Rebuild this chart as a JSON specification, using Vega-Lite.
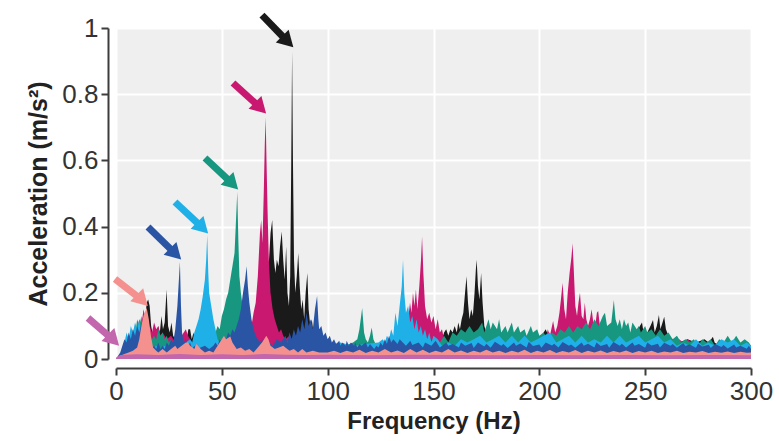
{
"$schema": "https://vega.github.io/schema/vega-lite/v6.json",
"width": 635, "height": 331,
"autosize": {"type": "none"},
"padding": {"left": 116, "top": 28, "right": 28, "bottom": 82},
"background": "#ffffff",
"config": {
  "view": {"fill": "#efefef", "stroke": null},
  "axis": {"labelFont": "Liberation Sans", "labelFontSize": 26, "labelColor": "#333333", "titleFont": "Liberation Sans", "titleFontSize": 24, "titleFontWeight": "bold", "titleColor": "#222222", "domainColor": "#3d3d3d", "domainWidth": 2, "tickColor": "#3d3d3d", "tickWidth": 2, "tickSize": 7, "gridColor": "#ffffff", "gridWidth": 2}
},
"datasets": {
"arrows": [
{"s":"k","f":68.97,"a":1.039,"f2":81.15,"a2":0.9586},
{"s":"c","f":55.27,"a":0.8338,"f2":68.29,"a2":0.7583},
{"s":"t","f":42.04,"a":0.6073,"f2":55.08,"a2":0.529},
{"s":"b","f":27.87,"a":0.4743,"f2":40.91,"a2":0.396},
{"s":"n","f":15.12,"a":0.3988,"f2":28.15,"a2":0.3175},
{"s":"p","f":-0.47,"a":0.2417,"f2":12.42,"a2":0.1773},
{"s":"o","f":-13.23,"a":0.1239,"f2":-1.18,"a2":0.0571}
],
"spec": [
{"s":"k","f":0,"a":0},{"s":"k","f":5,"a":0.02},{"s":"k","f":7,"a":0.04},{"s":"k","f":8,"a":0.05},{"s":"k","f":9,"a":0.07},{"s":"k","f":10,"a":0.08},{"s":"k","f":11,"a":0.1},{"s":"k","f":12,"a":0.09},{"s":"k","f":13,"a":0.14},{"s":"k","f":13.8,"a":0.12},{"s":"k","f":14.5,"a":0.17},{"s":"k","f":15.2,"a":0.18},{"s":"k","f":15.9,"a":0.16},{"s":"k","f":16.6,"a":0.1},{"s":"k","f":17.5,"a":0.07},{"s":"k","f":18.5,"a":0.09},{"s":"k","f":19.2,"a":0.06},{"s":"k","f":20,"a":0.1},{"s":"k","f":20.7,"a":0.08},{"s":"k","f":21.5,"a":0.13},{"s":"k","f":22.2,"a":0.09},{"s":"k","f":23,"a":0.11},{"s":"k","f":23.9,"a":0.21},{"s":"k","f":24.6,"a":0.1},{"s":"k","f":25.4,"a":0.08},{"s":"k","f":26.2,"a":0.11},{"s":"k","f":27,"a":0.07},{"s":"k","f":28,"a":0.06},{"s":"k","f":29,"a":0.05},{"s":"k","f":30,"a":0.06},{"s":"k","f":31,"a":0.05},{"s":"k","f":32,"a":0.07},{"s":"k","f":32.6,"a":0.08},{"s":"k","f":33.4,"a":0.06},{"s":"k","f":34.2,"a":0.09},{"s":"k","f":35,"a":0.09},{"s":"k","f":35.8,"a":0.06},{"s":"k","f":36.6,"a":0.08},{"s":"k","f":37.5,"a":0.05},{"s":"k","f":38.5,"a":0.06},{"s":"k","f":40,"a":0.04},{"s":"k","f":43,"a":0.04},{"s":"k","f":46,"a":0.05},{"s":"k","f":50,"a":0.04},{"s":"k","f":54,"a":0.05},{"s":"k","f":58,"a":0.06},{"s":"k","f":62,"a":0.07},{"s":"k","f":65,"a":0.09},{"s":"k","f":67,"a":0.12},{"s":"k","f":68.5,"a":0.18},{"s":"k","f":69.5,"a":0.16},{"s":"k","f":70.5,"a":0.22},{"s":"k","f":71.5,"a":0.28},{"s":"k","f":72.3,"a":0.3},{"s":"k","f":73,"a":0.38},{"s":"k","f":73.8,"a":0.42},{"s":"k","f":74.6,"a":0.3},{"s":"k","f":75.3,"a":0.26},{"s":"k","f":76,"a":0.3},{"s":"k","f":76.8,"a":0.28},{"s":"k","f":77.5,"a":0.34},{"s":"k","f":78.3,"a":0.385},{"s":"k","f":79,"a":0.3},{"s":"k","f":79.7,"a":0.24},{"s":"k","f":80.4,"a":0.34},{"s":"k","f":81,"a":0.2},{"s":"k","f":81.7,"a":0.16},{"s":"k","f":82.3,"a":0.25},{"s":"k","f":82.8,"a":0.6},{"s":"k","f":83.2,"a":0.93},{"s":"k","f":83.6,"a":0.6},{"s":"k","f":84.1,"a":0.3},{"s":"k","f":84.7,"a":0.2},{"s":"k","f":85.4,"a":0.25},{"s":"k","f":86.1,"a":0.32},{"s":"k","f":86.8,"a":0.22},{"s":"k","f":87.5,"a":0.15},{"s":"k","f":88.2,"a":0.18},{"s":"k","f":88.9,"a":0.12},{"s":"k","f":89.6,"a":0.2},{"s":"k","f":90.4,"a":0.26},{"s":"k","f":91,"a":0.15},{"s":"k","f":91.8,"a":0.1},{"s":"k","f":92.5,"a":0.12},{"s":"k","f":93.3,"a":0.08},{"s":"k","f":94,"a":0.07},{"s":"k","f":95,"a":0.06},{"s":"k","f":97,"a":0.05},{"s":"k","f":100,"a":0.03},{"s":"k","f":120,"a":0.03},{"s":"k","f":140,"a":0.03},{"s":"k","f":146,"a":0.04},{"s":"k","f":150,"a":0.06},{"s":"k","f":152,"a":0.07},{"s":"k","f":154,"a":0.06},{"s":"k","f":155,"a":0.08},{"s":"k","f":156,"a":0.09},{"s":"k","f":157,"a":0.07},{"s":"k","f":158,"a":0.09},{"s":"k","f":159,"a":0.08},{"s":"k","f":160,"a":0.1},{"s":"k","f":161,"a":0.08},{"s":"k","f":161.7,"a":0.11},{"s":"k","f":162.5,"a":0.09},{"s":"k","f":163.3,"a":0.12},{"s":"k","f":164.1,"a":0.14},{"s":"k","f":164.9,"a":0.2},{"s":"k","f":165.6,"a":0.25},{"s":"k","f":166.3,"a":0.17},{"s":"k","f":167,"a":0.12},{"s":"k","f":167.8,"a":0.15},{"s":"k","f":168.6,"a":0.13},{"s":"k","f":169.4,"a":0.2},{"s":"k","f":170,"a":0.27},{"s":"k","f":170.4,"a":0.3},{"s":"k","f":171,"a":0.22},{"s":"k","f":171.7,"a":0.18},{"s":"k","f":172.5,"a":0.26},{"s":"k","f":173.2,"a":0.17},{"s":"k","f":174,"a":0.1},{"s":"k","f":175,"a":0.08},{"s":"k","f":177,"a":0.06},{"s":"k","f":180,"a":0.05},{"s":"k","f":190,"a":0.05},{"s":"k","f":200,"a":0.06},{"s":"k","f":203,"a":0.09},{"s":"k","f":205,"a":0.06},{"s":"k","f":210,"a":0.05},{"s":"k","f":230,"a":0.05},{"s":"k","f":240,"a":0.06},{"s":"k","f":244,"a":0.07},{"s":"k","f":246,"a":0.08},{"s":"k","f":247.5,"a":0.1},{"s":"k","f":248.5,"a":0.11},{"s":"k","f":249.5,"a":0.07},{"s":"k","f":251,"a":0.08},{"s":"k","f":252.5,"a":0.1},{"s":"k","f":253.7,"a":0.118},{"s":"k","f":254.5,"a":0.08},{"s":"k","f":255.5,"a":0.1},{"s":"k","f":256.5,"a":0.133},{"s":"k","f":257.2,"a":0.09},{"s":"k","f":258.2,"a":0.11},{"s":"k","f":259,"a":0.128},{"s":"k","f":259.8,"a":0.09},{"s":"k","f":261,"a":0.07},{"s":"k","f":263,"a":0.06},{"s":"k","f":266,"a":0.05},{"s":"k","f":270,"a":0.06},{"s":"k","f":274,"a":0.05},{"s":"k","f":278,"a":0.06},{"s":"k","f":280,"a":0.05},{"s":"k","f":281.2,"a":0.06},{"s":"k","f":282,"a":0.067},{"s":"k","f":282.8,"a":0.05},{"s":"k","f":285,"a":0.04},{"s":"k","f":290,"a":0.045},{"s":"k","f":295,"a":0.04},{"s":"k","f":300,"a":0.04},

{"s":"c","f":0,"a":0},{"s":"c","f":6,"a":0.03},{"s":"c","f":8,"a":0.06},{"s":"c","f":10,"a":0.09},{"s":"c","f":11,"a":0.12},{"s":"c","f":12,"a":0.1},{"s":"c","f":13,"a":0.15},{"s":"c","f":14,"a":0.12},{"s":"c","f":15,"a":0.09},{"s":"c","f":16,"a":0.1},{"s":"c","f":17,"a":0.08},{"s":"c","f":18,"a":0.11},{"s":"c","f":19,"a":0.09},{"s":"c","f":20,"a":0.1},{"s":"c","f":21,"a":0.07},{"s":"c","f":22,"a":0.08},{"s":"c","f":24,"a":0.06},{"s":"c","f":26,"a":0.07},{"s":"c","f":28,"a":0.05},{"s":"c","f":30,"a":0.06},{"s":"c","f":32,"a":0.08},{"s":"c","f":33,"a":0.09},{"s":"c","f":34,"a":0.07},{"s":"c","f":36,"a":0.05},{"s":"c","f":38,"a":0.04},{"s":"c","f":42,"a":0.03},{"s":"c","f":46,"a":0.04},{"s":"c","f":50,"a":0.03},{"s":"c","f":54,"a":0.04},{"s":"c","f":58,"a":0.05},{"s":"c","f":61,"a":0.06},{"s":"c","f":63,"a":0.08},{"s":"c","f":64,"a":0.1},{"s":"c","f":65,"a":0.14},{"s":"c","f":66,"a":0.17},{"s":"c","f":67,"a":0.25},{"s":"c","f":68,"a":0.38},{"s":"c","f":68.6,"a":0.42},{"s":"c","f":69.2,"a":0.35},{"s":"c","f":69.8,"a":0.5},{"s":"c","f":70.3,"a":0.65},{"s":"c","f":70.7,"a":0.73},{"s":"c","f":71.1,"a":0.6},{"s":"c","f":71.6,"a":0.45},{"s":"c","f":72.2,"a":0.3},{"s":"c","f":73,"a":0.2},{"s":"c","f":74,"a":0.15},{"s":"c","f":75,"a":0.12},{"s":"c","f":76,"a":0.1},{"s":"c","f":77,"a":0.08},{"s":"c","f":78,"a":0.09},{"s":"c","f":79,"a":0.07},{"s":"c","f":80,"a":0.06},{"s":"c","f":82,"a":0.07},{"s":"c","f":84,"a":0.05},{"s":"c","f":86,"a":0.06},{"s":"c","f":88,"a":0.04},{"s":"c","f":92,"a":0.05},{"s":"c","f":96,"a":0.03},{"s":"c","f":100,"a":0.04},{"s":"c","f":110,"a":0.03},{"s":"c","f":120,"a":0.035},{"s":"c","f":128,"a":0.03},{"s":"c","f":130,"a":0.05},{"s":"c","f":132,"a":0.06},{"s":"c","f":134,"a":0.08},{"s":"c","f":136,"a":0.1},{"s":"c","f":137,"a":0.14},{"s":"c","f":138,"a":0.12},{"s":"c","f":138.9,"a":0.17},{"s":"c","f":139.6,"a":0.14},{"s":"c","f":140.3,"a":0.2},{"s":"c","f":141,"a":0.16},{"s":"c","f":141.7,"a":0.21},{"s":"c","f":142.4,"a":0.15},{"s":"c","f":143.3,"a":0.22},{"s":"c","f":144.1,"a":0.3},{"s":"c","f":144.6,"a":0.37},{"s":"c","f":145.2,"a":0.26},{"s":"c","f":146,"a":0.16},{"s":"c","f":147,"a":0.12},{"s":"c","f":148,"a":0.14},{"s":"c","f":149,"a":0.11},{"s":"c","f":150,"a":0.13},{"s":"c","f":151,"a":0.09},{"s":"c","f":152,"a":0.12},{"s":"c","f":153,"a":0.08},{"s":"c","f":154,"a":0.09},{"s":"c","f":155,"a":0.06},{"s":"c","f":157,"a":0.05},{"s":"c","f":160,"a":0.04},{"s":"c","f":170,"a":0.04},{"s":"c","f":180,"a":0.04},{"s":"c","f":190,"a":0.04},{"s":"c","f":200,"a":0.06},{"s":"c","f":202,"a":0.07},{"s":"c","f":203,"a":0.06},{"s":"c","f":204,"a":0.09},{"s":"c","f":205,"a":0.07},{"s":"c","f":206,"a":0.1},{"s":"c","f":206.5,"a":0.115},{"s":"c","f":207.5,"a":0.08},{"s":"c","f":208.5,"a":0.1},{"s":"c","f":209.5,"a":0.14},{"s":"c","f":210.2,"a":0.18},{"s":"c","f":211,"a":0.23},{"s":"c","f":211.8,"a":0.15},{"s":"c","f":212.6,"a":0.12},{"s":"c","f":213.4,"a":0.2},{"s":"c","f":214.3,"a":0.26},{"s":"c","f":215.2,"a":0.31},{"s":"c","f":215.7,"a":0.35},{"s":"c","f":216.2,"a":0.28},{"s":"c","f":217,"a":0.16},{"s":"c","f":217.8,"a":0.13},{"s":"c","f":218.5,"a":0.17},{"s":"c","f":219.2,"a":0.2},{"s":"c","f":220,"a":0.13},{"s":"c","f":220.8,"a":0.12},{"s":"c","f":221.5,"a":0.17},{"s":"c","f":222.2,"a":0.12},{"s":"c","f":223,"a":0.1},{"s":"c","f":223.9,"a":0.12},{"s":"c","f":224.7,"a":0.15},{"s":"c","f":225.5,"a":0.11},{"s":"c","f":226.4,"a":0.1},{"s":"c","f":227.2,"a":0.14},{"s":"c","f":227.8,"a":0.145},{"s":"c","f":228.6,"a":0.1},{"s":"c","f":229.5,"a":0.08},{"s":"c","f":231,"a":0.06},{"s":"c","f":233,"a":0.05},{"s":"c","f":240,"a":0.045},{"s":"c","f":250,"a":0.05},{"s":"c","f":258,"a":0.045},{"s":"c","f":262,"a":0.06},{"s":"c","f":264,"a":0.05},{"s":"c","f":266,"a":0.06},{"s":"c","f":268,"a":0.05},{"s":"c","f":270,"a":0.06},{"s":"c","f":272,"a":0.05},{"s":"c","f":274,"a":0.055},{"s":"c","f":276,"a":0.045},{"s":"c","f":280,"a":0.04},{"s":"c","f":290,"a":0.04},{"s":"c","f":300,"a":0.04},

{"s":"t","f":0,"a":0},{"s":"t","f":5,"a":0.03},{"s":"t","f":7,"a":0.06},{"s":"t","f":8,"a":0.09},{"s":"t","f":9,"a":0.07},{"s":"t","f":10,"a":0.12},{"s":"t","f":11,"a":0.1},{"s":"t","f":12,"a":0.13},{"s":"t","f":13,"a":0.08},{"s":"t","f":14,"a":0.06},{"s":"t","f":16,"a":0.05},{"s":"t","f":18,"a":0.07},{"s":"t","f":19,"a":0.06},{"s":"t","f":20,"a":0.09},{"s":"t","f":21,"a":0.07},{"s":"t","f":22,"a":0.08},{"s":"t","f":23,"a":0.06},{"s":"t","f":24,"a":0.07},{"s":"t","f":25,"a":0.05},{"s":"t","f":26,"a":0.06},{"s":"t","f":28,"a":0.04},{"s":"t","f":30,"a":0.05},{"s":"t","f":32,"a":0.04},{"s":"t","f":34,"a":0.05},{"s":"t","f":36,"a":0.04},{"s":"t","f":38,"a":0.05},{"s":"t","f":40,"a":0.04},{"s":"t","f":42,"a":0.05},{"s":"t","f":44,"a":0.04},{"s":"t","f":46,"a":0.06},{"s":"t","f":47,"a":0.08},{"s":"t","f":48,"a":0.1},{"s":"t","f":49,"a":0.09},{"s":"t","f":50,"a":0.13},{"s":"t","f":51,"a":0.15},{"s":"t","f":52,"a":0.18},{"s":"t","f":53,"a":0.2},{"s":"t","f":54,"a":0.24},{"s":"t","f":55,"a":0.28},{"s":"t","f":56,"a":0.32},{"s":"t","f":56.7,"a":0.42},{"s":"t","f":57.3,"a":0.505},{"s":"t","f":57.8,"a":0.36},{"s":"t","f":58.3,"a":0.25},{"s":"t","f":59,"a":0.2},{"s":"t","f":60,"a":0.15},{"s":"t","f":61,"a":0.12},{"s":"t","f":62,"a":0.1},{"s":"t","f":63,"a":0.08},{"s":"t","f":64,"a":0.07},{"s":"t","f":65,"a":0.05},{"s":"t","f":67,"a":0.04},{"s":"t","f":70,"a":0.04},{"s":"t","f":73,"a":0.03},{"s":"t","f":76,"a":0.04},{"s":"t","f":80,"a":0.03},{"s":"t","f":84,"a":0.04},{"s":"t","f":88,"a":0.03},{"s":"t","f":92,"a":0.04},{"s":"t","f":96,"a":0.03},{"s":"t","f":100,"a":0.04},{"s":"t","f":104,"a":0.03},{"s":"t","f":108,"a":0.04},{"s":"t","f":112,"a":0.05},{"s":"t","f":114,"a":0.06},{"s":"t","f":115,"a":0.09},{"s":"t","f":116.3,"a":0.154},{"s":"t","f":117.2,"a":0.08},{"s":"t","f":118,"a":0.06},{"s":"t","f":119,"a":0.05},{"s":"t","f":120,"a":0.07},{"s":"t","f":120.8,"a":0.095},{"s":"t","f":121.6,"a":0.06},{"s":"t","f":123,"a":0.04},{"s":"t","f":126,"a":0.03},{"s":"t","f":130,"a":0.04},{"s":"t","f":134,"a":0.03},{"s":"t","f":138,"a":0.04},{"s":"t","f":142,"a":0.05},{"s":"t","f":146,"a":0.04},{"s":"t","f":150,"a":0.06},{"s":"t","f":153,"a":0.05},{"s":"t","f":155,"a":0.07},{"s":"t","f":157,"a":0.05},{"s":"t","f":159,"a":0.08},{"s":"t","f":161,"a":0.07},{"s":"t","f":163,"a":0.09},{"s":"t","f":165,"a":0.08},{"s":"t","f":167,"a":0.1},{"s":"t","f":169,"a":0.08},{"s":"t","f":171,"a":0.09},{"s":"t","f":173,"a":0.11},{"s":"t","f":174,"a":0.08},{"s":"t","f":176,"a":0.12},{"s":"t","f":177,"a":0.09},{"s":"t","f":178,"a":0.11},{"s":"t","f":180,"a":0.09},{"s":"t","f":181,"a":0.12},{"s":"t","f":182,"a":0.08},{"s":"t","f":184,"a":0.1},{"s":"t","f":185,"a":0.08},{"s":"t","f":187,"a":0.11},{"s":"t","f":188,"a":0.08},{"s":"t","f":190,"a":0.1},{"s":"t","f":191,"a":0.08},{"s":"t","f":193,"a":0.09},{"s":"t","f":194,"a":0.07},{"s":"t","f":196,"a":0.1},{"s":"t","f":197,"a":0.08},{"s":"t","f":199,"a":0.09},{"s":"t","f":200,"a":0.07},{"s":"t","f":202,"a":0.08},{"s":"t","f":204,"a":0.06},{"s":"t","f":206,"a":0.08},{"s":"t","f":208,"a":0.07},{"s":"t","f":210,"a":0.09},{"s":"t","f":212,"a":0.08},{"s":"t","f":214,"a":0.1},{"s":"t","f":216,"a":0.08},{"s":"t","f":218,"a":0.1},{"s":"t","f":220,"a":0.09},{"s":"t","f":222,"a":0.11},{"s":"t","f":224,"a":0.09},{"s":"t","f":226,"a":0.12},{"s":"t","f":228,"a":0.1},{"s":"t","f":230,"a":0.13},{"s":"t","f":231,"a":0.14},{"s":"t","f":232,"a":0.1},{"s":"t","f":234,"a":0.11},{"s":"t","f":235.2,"a":0.178},{"s":"t","f":236,"a":0.12},{"s":"t","f":237,"a":0.1},{"s":"t","f":238,"a":0.12},{"s":"t","f":239,"a":0.09},{"s":"t","f":240,"a":0.12},{"s":"t","f":241,"a":0.1},{"s":"t","f":242,"a":0.11},{"s":"t","f":243,"a":0.08},{"s":"t","f":244,"a":0.11},{"s":"t","f":246,"a":0.09},{"s":"t","f":247,"a":0.1},{"s":"t","f":248,"a":0.08},{"s":"t","f":250,"a":0.1},{"s":"t","f":251,"a":0.08},{"s":"t","f":253,"a":0.09},{"s":"t","f":255,"a":0.07},{"s":"t","f":257,"a":0.09},{"s":"t","f":259,"a":0.07},{"s":"t","f":261,"a":0.08},{"s":"t","f":263,"a":0.06},{"s":"t","f":265,"a":0.07},{"s":"t","f":267,"a":0.05},{"s":"t","f":269,"a":0.06},{"s":"t","f":271,"a":0.05},{"s":"t","f":273,"a":0.06},{"s":"t","f":275,"a":0.04},{"s":"t","f":277,"a":0.06},{"s":"t","f":279,"a":0.05},{"s":"t","f":281,"a":0.06},{"s":"t","f":283,"a":0.04},{"s":"t","f":285,"a":0.06},{"s":"t","f":287,"a":0.05},{"s":"t","f":289,"a":0.07},{"s":"t","f":291,"a":0.05},{"s":"t","f":293,"a":0.07},{"s":"t","f":295,"a":0.05},{"s":"t","f":297,"a":0.06},{"s":"t","f":299,"a":0.05},{"s":"t","f":300,"a":0.04},

{"s":"b","f":0,"a":0},{"s":"b","f":3,"a":0.02},{"s":"b","f":4,"a":0.05},{"s":"b","f":5,"a":0.08},{"s":"b","f":6,"a":0.06},{"s":"b","f":7,"a":0.1},{"s":"b","f":8,"a":0.08},{"s":"b","f":9,"a":0.11},{"s":"b","f":10,"a":0.09},{"s":"b","f":11,"a":0.12},{"s":"b","f":12,"a":0.08},{"s":"b","f":13,"a":0.06},{"s":"b","f":14,"a":0.05},{"s":"b","f":15,"a":0.04},{"s":"b","f":17,"a":0.03},{"s":"b","f":19,"a":0.04},{"s":"b","f":21,"a":0.03},{"s":"b","f":23,"a":0.04},{"s":"b","f":25,"a":0.03},{"s":"b","f":27,"a":0.04},{"s":"b","f":29,"a":0.03},{"s":"b","f":31,"a":0.04},{"s":"b","f":33,"a":0.05},{"s":"b","f":35,"a":0.06},{"s":"b","f":36,"a":0.05},{"s":"b","f":37,"a":0.08},{"s":"b","f":38,"a":0.1},{"s":"b","f":39,"a":0.12},{"s":"b","f":40,"a":0.15},{"s":"b","f":41,"a":0.19},{"s":"b","f":42,"a":0.24},{"s":"b","f":42.6,"a":0.3},{"s":"b","f":43.1,"a":0.375},{"s":"b","f":43.6,"a":0.26},{"s":"b","f":44,"a":0.2},{"s":"b","f":45,"a":0.16},{"s":"b","f":46,"a":0.12},{"s":"b","f":47,"a":0.09},{"s":"b","f":48,"a":0.06},{"s":"b","f":49,"a":0.05},{"s":"b","f":50,"a":0.04},{"s":"b","f":54,"a":0.04},{"s":"b","f":60,"a":0.03},{"s":"b","f":66,"a":0.04},{"s":"b","f":72,"a":0.03},{"s":"b","f":76,"a":0.05},{"s":"b","f":80,"a":0.05},{"s":"b","f":84,"a":0.06},{"s":"b","f":86,"a":0.05},{"s":"b","f":88,"a":0.07},{"s":"b","f":90,"a":0.05},{"s":"b","f":92,"a":0.06},{"s":"b","f":94,"a":0.04},{"s":"b","f":97,"a":0.05},{"s":"b","f":100,"a":0.04},{"s":"b","f":106,"a":0.05},{"s":"b","f":112,"a":0.04},{"s":"b","f":118,"a":0.045},{"s":"b","f":124,"a":0.05},{"s":"b","f":126,"a":0.06},{"s":"b","f":127,"a":0.05},{"s":"b","f":128,"a":0.07},{"s":"b","f":129,"a":0.06},{"s":"b","f":130,"a":0.09},{"s":"b","f":131,"a":0.07},{"s":"b","f":132,"a":0.14},{"s":"b","f":133,"a":0.1},{"s":"b","f":134,"a":0.16},{"s":"b","f":135,"a":0.22},{"s":"b","f":135.6,"a":0.3},{"s":"b","f":136.2,"a":0.2},{"s":"b","f":137,"a":0.14},{"s":"b","f":138,"a":0.16},{"s":"b","f":139,"a":0.11},{"s":"b","f":140,"a":0.13},{"s":"b","f":141,"a":0.09},{"s":"b","f":142,"a":0.12},{"s":"b","f":143,"a":0.08},{"s":"b","f":144,"a":0.1},{"s":"b","f":145,"a":0.07},{"s":"b","f":146,"a":0.09},{"s":"b","f":147,"a":0.06},{"s":"b","f":148,"a":0.08},{"s":"b","f":149,"a":0.05},{"s":"b","f":150,"a":0.07},{"s":"b","f":152,"a":0.06},{"s":"b","f":154,"a":0.04},{"s":"b","f":157,"a":0.05},{"s":"b","f":160,"a":0.04},{"s":"b","f":163,"a":0.06},{"s":"b","f":166,"a":0.05},{"s":"b","f":169,"a":0.06},{"s":"b","f":172,"a":0.07},{"s":"b","f":175,"a":0.05},{"s":"b","f":178,"a":0.06},{"s":"b","f":181,"a":0.07},{"s":"b","f":184,"a":0.05},{"s":"b","f":187,"a":0.07},{"s":"b","f":190,"a":0.05},{"s":"b","f":193,"a":0.07},{"s":"b","f":196,"a":0.05},{"s":"b","f":199,"a":0.06},{"s":"b","f":202,"a":0.07},{"s":"b","f":205,"a":0.08},{"s":"b","f":208,"a":0.05},{"s":"b","f":211,"a":0.06},{"s":"b","f":214,"a":0.07},{"s":"b","f":217,"a":0.05},{"s":"b","f":220,"a":0.07},{"s":"b","f":223,"a":0.05},{"s":"b","f":226,"a":0.06},{"s":"b","f":229,"a":0.05},{"s":"b","f":232,"a":0.07},{"s":"b","f":235,"a":0.05},{"s":"b","f":238,"a":0.07},{"s":"b","f":241,"a":0.05},{"s":"b","f":244,"a":0.06},{"s":"b","f":247,"a":0.07},{"s":"b","f":250,"a":0.05},{"s":"b","f":253,"a":0.06},{"s":"b","f":256,"a":0.07},{"s":"b","f":259,"a":0.05},{"s":"b","f":262,"a":0.06},{"s":"b","f":265,"a":0.04},{"s":"b","f":268,"a":0.05},{"s":"b","f":271,"a":0.04},{"s":"b","f":274,"a":0.06},{"s":"b","f":277,"a":0.04},{"s":"b","f":280,"a":0.05},{"s":"b","f":283,"a":0.04},{"s":"b","f":286,"a":0.06},{"s":"b","f":289,"a":0.05},{"s":"b","f":292,"a":0.06},{"s":"b","f":295,"a":0.04},{"s":"b","f":298,"a":0.05},{"s":"b","f":300,"a":0.04},

{"s":"n","f":0,"a":0},{"s":"n","f":2,"a":0.02},{"s":"n","f":3,"a":0.04},{"s":"n","f":4,"a":0.06},{"s":"n","f":5,"a":0.05},{"s":"n","f":6,"a":0.08},{"s":"n","f":7,"a":0.06},{"s":"n","f":8,"a":0.09},{"s":"n","f":9,"a":0.07},{"s":"n","f":10,"a":0.1},{"s":"n","f":11,"a":0.08},{"s":"n","f":12,"a":0.11},{"s":"n","f":13,"a":0.07},{"s":"n","f":14,"a":0.06},{"s":"n","f":15,"a":0.04},{"s":"n","f":16,"a":0.05},{"s":"n","f":17,"a":0.03},{"s":"n","f":18,"a":0.04},{"s":"n","f":19,"a":0.03},{"s":"n","f":20,"a":0.05},{"s":"n","f":21,"a":0.03},{"s":"n","f":22,"a":0.04},{"s":"n","f":23,"a":0.03},{"s":"n","f":24,"a":0.05},{"s":"n","f":25,"a":0.04},{"s":"n","f":26,"a":0.06},{"s":"n","f":27,"a":0.05},{"s":"n","f":28,"a":0.09},{"s":"n","f":29,"a":0.16},{"s":"n","f":30.2,"a":0.294},{"s":"n","f":30.7,"a":0.16},{"s":"n","f":31.2,"a":0.08},{"s":"n","f":32,"a":0.05},{"s":"n","f":33,"a":0.06},{"s":"n","f":34,"a":0.04},{"s":"n","f":35,"a":0.05},{"s":"n","f":36,"a":0.03},{"s":"n","f":37,"a":0.04},{"s":"n","f":38,"a":0.03},{"s":"n","f":40,"a":0.035},{"s":"n","f":42,"a":0.04},{"s":"n","f":44,"a":0.03},{"s":"n","f":46,"a":0.04},{"s":"n","f":47,"a":0.05},{"s":"n","f":48,"a":0.04},{"s":"n","f":49,"a":0.06},{"s":"n","f":50,"a":0.05},{"s":"n","f":51,"a":0.07},{"s":"n","f":52,"a":0.06},{"s":"n","f":53,"a":0.08},{"s":"n","f":54,"a":0.07},{"s":"n","f":55,"a":0.09},{"s":"n","f":56,"a":0.08},{"s":"n","f":57,"a":0.1},{"s":"n","f":58,"a":0.12},{"s":"n","f":59,"a":0.15},{"s":"n","f":60,"a":0.2},{"s":"n","f":61,"a":0.24},{"s":"n","f":61.7,"a":0.28},{"s":"n","f":62.3,"a":0.22},{"s":"n","f":63,"a":0.17},{"s":"n","f":64,"a":0.12},{"s":"n","f":65,"a":0.09},{"s":"n","f":66,"a":0.07},{"s":"n","f":67,"a":0.06},{"s":"n","f":68,"a":0.05},{"s":"n","f":69,"a":0.06},{"s":"n","f":70,"a":0.04},{"s":"n","f":72,"a":0.05},{"s":"n","f":74,"a":0.04},{"s":"n","f":76,"a":0.06},{"s":"n","f":78,"a":0.05},{"s":"n","f":80,"a":0.07},{"s":"n","f":81,"a":0.05},{"s":"n","f":82,"a":0.08},{"s":"n","f":83,"a":0.06},{"s":"n","f":84,"a":0.09},{"s":"n","f":85,"a":0.07},{"s":"n","f":86,"a":0.1},{"s":"n","f":87,"a":0.08},{"s":"n","f":88,"a":0.12},{"s":"n","f":89,"a":0.09},{"s":"n","f":90,"a":0.14},{"s":"n","f":91,"a":0.1},{"s":"n","f":92,"a":0.12},{"s":"n","f":93,"a":0.09},{"s":"n","f":94,"a":0.15},{"s":"n","f":95,"a":0.19},{"s":"n","f":95.6,"a":0.12},{"s":"n","f":96,"a":0.09},{"s":"n","f":97,"a":0.1},{"s":"n","f":98,"a":0.07},{"s":"n","f":99,"a":0.08},{"s":"n","f":100,"a":0.06},{"s":"n","f":101,"a":0.07},{"s":"n","f":102,"a":0.05},{"s":"n","f":103,"a":0.06},{"s":"n","f":104,"a":0.045},{"s":"n","f":105.5,"a":0.055},{"s":"n","f":106,"a":0.04},{"s":"n","f":107,"a":0.05},{"s":"n","f":108.5,"a":0.04},{"s":"n","f":109,"a":0.055},{"s":"n","f":110,"a":0.04},{"s":"n","f":111,"a":0.05},{"s":"n","f":112.5,"a":0.04},{"s":"n","f":113,"a":0.05},{"s":"n","f":114,"a":0.035},{"s":"n","f":115,"a":0.045},{"s":"n","f":116,"a":0.04},{"s":"n","f":118,"a":0.05},{"s":"n","f":119,"a":0.035},{"s":"n","f":120,"a":0.045},{"s":"n","f":122,"a":0.03},{"s":"n","f":123,"a":0.04},{"s":"n","f":124,"a":0.035},{"s":"n","f":125,"a":0.05},{"s":"n","f":126,"a":0.04},{"s":"n","f":127,"a":0.06},{"s":"n","f":128,"a":0.045},{"s":"n","f":129,"a":0.07},{"s":"n","f":130,"a":0.05},{"s":"n","f":131,"a":0.06},{"s":"n","f":133,"a":0.045},{"s":"n","f":134,"a":0.06},{"s":"n","f":137,"a":0.04},{"s":"n","f":139,"a":0.055},{"s":"n","f":140,"a":0.042},{"s":"n","f":143,"a":0.05},{"s":"n","f":145,"a":0.035},{"s":"n","f":146,"a":0.05},{"s":"n","f":149,"a":0.04},{"s":"n","f":151,"a":0.055},{"s":"n","f":153,"a":0.035},{"s":"n","f":156,"a":0.05},{"s":"n","f":157,"a":0.04},{"s":"n","f":159,"a":0.045},{"s":"n","f":162,"a":0.035},{"s":"n","f":163,"a":0.05},{"s":"n","f":165,"a":0.04},{"s":"n","f":168,"a":0.048},{"s":"n","f":169,"a":0.033},{"s":"n","f":171,"a":0.05},{"s":"n","f":174,"a":0.038},{"s":"n","f":175,"a":0.046},{"s":"n","f":177,"a":0.034},{"s":"n","f":179,"a":0.052},{"s":"n","f":182,"a":0.04},{"s":"n","f":183,"a":0.045},{"s":"n","f":185,"a":0.033},{"s":"n","f":188,"a":0.05},{"s":"n","f":189,"a":0.04},{"s":"n","f":191,"a":0.047},{"s":"n","f":194,"a":0.035},{"s":"n","f":195,"a":0.052},{"s":"n","f":197,"a":0.039},{"s":"n","f":200,"a":0.044},{"s":"n","f":201,"a":0.034},{"s":"n","f":203,"a":0.05},{"s":"n","f":206,"a":0.041},{"s":"n","f":207,"a":0.046},{"s":"n","f":209,"a":0.035},{"s":"n","f":211,"a":0.051},{"s":"n","f":214,"a":0.04},{"s":"n","f":215,"a":0.044},{"s":"n","f":217,"a":0.034},{"s":"n","f":220,"a":0.05},{"s":"n","f":221,"a":0.04},{"s":"n","f":223,"a":0.046},{"s":"n","f":226,"a":0.035},{"s":"n","f":227,"a":0.05},{"s":"n","f":229,"a":0.039},{"s":"n","f":232,"a":0.045},{"s":"n","f":233,"a":0.034},{"s":"n","f":235,"a":0.051},{"s":"n","f":238,"a":0.04},{"s":"n","f":239,"a":0.046},{"s":"n","f":241,"a":0.035},{"s":"n","f":244,"a":0.05},{"s":"n","f":245,"a":0.04},{"s":"n","f":247,"a":0.045},{"s":"n","f":250,"a":0.034},{"s":"n","f":251,"a":0.05},{"s":"n","f":253,"a":0.041},{"s":"n","f":256,"a":0.046},{"s":"n","f":257,"a":0.035},{"s":"n","f":259,"a":0.049},{"s":"n","f":262,"a":0.04},{"s":"n","f":263,"a":0.045},{"s":"n","f":265,"a":0.034},{"s":"n","f":268,"a":0.048},{"s":"n","f":269,"a":0.039},{"s":"n","f":271,"a":0.044},{"s":"n","f":274,"a":0.034},{"s":"n","f":275,"a":0.047},{"s":"n","f":277,"a":0.038},{"s":"n","f":280,"a":0.043},{"s":"n","f":281,"a":0.033},{"s":"n","f":283,"a":0.045},{"s":"n","f":286,"a":0.036},{"s":"n","f":287,"a":0.042},{"s":"n","f":289,"a":0.032},{"s":"n","f":292,"a":0.044},{"s":"n","f":293,"a":0.035},{"s":"n","f":295,"a":0.04},{"s":"n","f":298,"a":0.031},{"s":"n","f":299,"a":0.04},{"s":"n","f":300,"a":0.03},

{"s":"p","f":0,"a":0},{"s":"p","f":2,"a":0.01},{"s":"p","f":4,"a":0.015},{"s":"p","f":6,"a":0.02},{"s":"p","f":8,"a":0.025},{"s":"p","f":10,"a":0.035},{"s":"p","f":11,"a":0.06},{"s":"p","f":12,"a":0.1},{"s":"p","f":13,"a":0.13},{"s":"p","f":14.5,"a":0.155},{"s":"p","f":15.5,"a":0.12},{"s":"p","f":16.5,"a":0.07},{"s":"p","f":17.5,"a":0.035},{"s":"p","f":19,"a":0.025},{"s":"p","f":20,"a":0.02},{"s":"p","f":22,"a":0.03},{"s":"p","f":24,"a":0.02},{"s":"p","f":26,"a":0.03},{"s":"p","f":28,"a":0.04},{"s":"p","f":29,"a":0.03},{"s":"p","f":31,"a":0.04},{"s":"p","f":33,"a":0.05},{"s":"p","f":34,"a":0.05},{"s":"p","f":35,"a":0.04},{"s":"p","f":37,"a":0.03},{"s":"p","f":38,"a":0.045},{"s":"p","f":40,"a":0.03},{"s":"p","f":42,"a":0.02},{"s":"p","f":44,"a":0.025},{"s":"p","f":46,"a":0.02},{"s":"p","f":48,"a":0.04},{"s":"p","f":50,"a":0.06},{"s":"p","f":51,"a":0.07},{"s":"p","f":52,"a":0.06},{"s":"p","f":54,"a":0.068},{"s":"p","f":55,"a":0.05},{"s":"p","f":57,"a":0.03},{"s":"p","f":59,"a":0.035},{"s":"p","f":61,"a":0.025},{"s":"p","f":63,"a":0.03},{"s":"p","f":65,"a":0.02},{"s":"p","f":67,"a":0.035},{"s":"p","f":69,"a":0.05},{"s":"p","f":70,"a":0.06},{"s":"p","f":71,"a":0.07},{"s":"p","f":72,"a":0.06},{"s":"p","f":73,"a":0.04},{"s":"p","f":75,"a":0.03},{"s":"p","f":77,"a":0.035},{"s":"p","f":79,"a":0.04},{"s":"p","f":80,"a":0.035},{"s":"p","f":82,"a":0.025},{"s":"p","f":84,"a":0.03},{"s":"p","f":86,"a":0.02},{"s":"p","f":88,"a":0.03},{"s":"p","f":90,"a":0.02},{"s":"p","f":93,"a":0.025},{"s":"p","f":96,"a":0.02},{"s":"p","f":100,"a":0.02},{"s":"p","f":103,"a":0.025},{"s":"p","f":106,"a":0.018},{"s":"p","f":109,"a":0.025},{"s":"p","f":112,"a":0.02},{"s":"p","f":115,"a":0.028},{"s":"p","f":118,"a":0.018},{"s":"p","f":121,"a":0.025},{"s":"p","f":124,"a":0.02},{"s":"p","f":127,"a":0.03},{"s":"p","f":130,"a":0.02},{"s":"p","f":133,"a":0.026},{"s":"p","f":136,"a":0.018},{"s":"p","f":139,"a":0.03},{"s":"p","f":142,"a":0.02},{"s":"p","f":145,"a":0.028},{"s":"p","f":148,"a":0.018},{"s":"p","f":151,"a":0.025},{"s":"p","f":154,"a":0.02},{"s":"p","f":157,"a":0.03},{"s":"p","f":160,"a":0.02},{"s":"p","f":163,"a":0.026},{"s":"p","f":166,"a":0.018},{"s":"p","f":169,"a":0.025},{"s":"p","f":172,"a":0.02},{"s":"p","f":175,"a":0.028},{"s":"p","f":178,"a":0.02},{"s":"p","f":181,"a":0.025},{"s":"p","f":184,"a":0.018},{"s":"p","f":187,"a":0.025},{"s":"p","f":190,"a":0.02},{"s":"p","f":193,"a":0.028},{"s":"p","f":196,"a":0.018},{"s":"p","f":199,"a":0.025},{"s":"p","f":202,"a":0.02},{"s":"p","f":205,"a":0.027},{"s":"p","f":208,"a":0.018},{"s":"p","f":211,"a":0.024},{"s":"p","f":214,"a":0.02},{"s":"p","f":217,"a":0.027},{"s":"p","f":220,"a":0.018},{"s":"p","f":223,"a":0.025},{"s":"p","f":226,"a":0.02},{"s":"p","f":229,"a":0.026},{"s":"p","f":232,"a":0.018},{"s":"p","f":235,"a":0.024},{"s":"p","f":238,"a":0.02},{"s":"p","f":241,"a":0.026},{"s":"p","f":244,"a":0.018},{"s":"p","f":247,"a":0.024},{"s":"p","f":250,"a":0.02},{"s":"p","f":253,"a":0.025},{"s":"p","f":256,"a":0.018},{"s":"p","f":259,"a":0.023},{"s":"p","f":262,"a":0.02},{"s":"p","f":265,"a":0.025},{"s":"p","f":268,"a":0.018},{"s":"p","f":271,"a":0.022},{"s":"p","f":274,"a":0.02},{"s":"p","f":277,"a":0.024},{"s":"p","f":280,"a":0.018},{"s":"p","f":283,"a":0.022},{"s":"p","f":286,"a":0.019},{"s":"p","f":289,"a":0.023},{"s":"p","f":292,"a":0.018},{"s":"p","f":295,"a":0.022},{"s":"p","f":298,"a":0.019},{"s":"p","f":300,"a":0.02},

{"s":"o","f":0,"a":0.004},{"s":"o","f":2,"a":0.012},{"s":"o","f":10,"a":0.014},{"s":"o","f":20,"a":0.012},{"s":"o","f":30,"a":0.015},{"s":"o","f":40,"a":0.012},{"s":"o","f":50,"a":0.014},{"s":"o","f":60,"a":0.012},{"s":"o","f":70,"a":0.015},{"s":"o","f":80,"a":0.013},{"s":"o","f":90,"a":0.012},{"s":"o","f":100,"a":0.013},{"s":"o","f":120,"a":0.011},{"s":"o","f":140,"a":0.013},{"s":"o","f":160,"a":0.012},{"s":"o","f":180,"a":0.011},{"s":"o","f":200,"a":0.012},{"s":"o","f":220,"a":0.011},{"s":"o","f":240,"a":0.012},{"s":"o","f":260,"a":0.011},{"s":"o","f":280,"a":0.012},{"s":"o","f":300,"a":0.011}
]
},
"data": {"name": "spec"},
"encoding": {
  "x": {"field": "f", "type": "quantitative", "scale": {"domain": [0, 300], "nice": false},
        "axis": {"title": "Frequency (Hz)", "values": [0, 50, 100, 150, 200, 250, 300], "offset": 9, "labelPadding": 3, "titlePadding": 5, "labelFlush": false}},
  "y": {"field": "a", "type": "quantitative", "scale": {"domain": [0, 1], "nice": false, "zero": true},
        "axis": {"title": "Acceleration (m/s²)", "titleFontSize": 25, "values": [0, 0.2, 0.4, 0.6, 0.8, 1], "format": "~g", "offset": 8, "labelPadding": 3, "titlePadding": 10, "labelFlush": false}},
  "color": {"field": "s", "type": "nominal", "legend": null,
            "scale": {"domain": ["k", "c", "t", "b", "n", "p", "o"], "range": ["#1a1a1a", "#c8186f", "#17977f", "#1fb0e8", "#2a55a5", "#f4918f", "#c266ad"]}}
},
"layer": [
  {"transform": [{"filter": "datum.s === 'k'"}], "mark": {"type": "area", "interpolate": "linear", "opacity": 1}},
  {"transform": [{"filter": "datum.s === 'c'"}], "mark": {"type": "area", "interpolate": "linear", "opacity": 1}},
  {"transform": [{"filter": "datum.s === 't'"}], "mark": {"type": "area", "interpolate": "linear", "opacity": 1}},
  {"transform": [{"filter": "datum.s === 'b'"}], "mark": {"type": "area", "interpolate": "linear", "opacity": 1}},
  {"transform": [{"filter": "datum.s === 'n'"}], "mark": {"type": "area", "interpolate": "linear", "opacity": 1}},
  {"transform": [{"filter": "datum.s === 'p'"}], "mark": {"type": "area", "interpolate": "linear", "opacity": 1}},
  {"transform": [{"filter": "datum.s === 'o'"}], "mark": {"type": "area", "interpolate": "linear", "opacity": 1}},
  {"data": {"name": "arrows"}, "mark": {"type": "rule", "strokeWidth": 7, "strokeCap": "butt", "clip": false},
   "encoding": {"x2": {"field": "f2"}, "y2": {"field": "a2"}}},
  {"data": {"name": "arrows"}, "mark": {"type": "point", "shape": "triangle-down", "angle": -45, "size": 330, "filled": true, "opacity": 1, "clip": false},
   "encoding": {"x": {"field": "f2", "type": "quantitative"}, "y": {"field": "a2", "type": "quantitative"}}}
]
}
